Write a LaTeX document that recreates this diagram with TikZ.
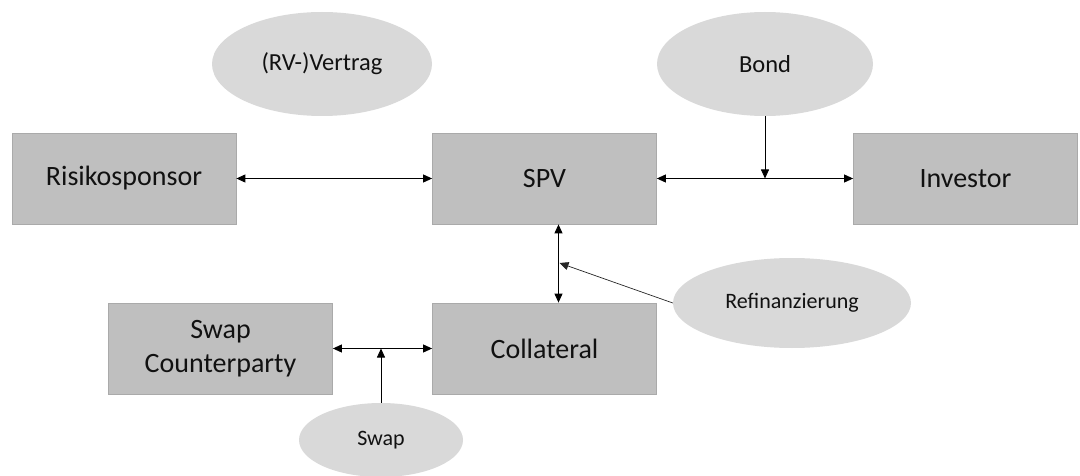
\documentclass[tikz,border=0pt]{standalone}
\usepackage{fontspec}
\setmainfont{Carlito}
\usetikzlibrary{shapes.geometric,arrows.meta,calc}
\definecolor{boxgray}{HTML}{BFBFBF}
\definecolor{boxline}{HTML}{AAAAAA}
\definecolor{ellgray}{HTML}{D9D9D9}
\definecolor{txt}{HTML}{111111}
\tikzset{
  boxnode/.style={rectangle, fill=boxgray, draw=boxline, line width=0.8pt,
    minimum width=224pt, minimum height=91pt, inner sep=0pt,
    font=\fontsize{28}{34}\selectfont, text=txt, align=center},
  ellbig/.style={ellipse, fill=ellgray, draw=none, inner sep=0pt,
    font=\fontsize{24.5}{29}\selectfont, text=txt},
  ellsmall/.style={ellipse, fill=ellgray, draw=none, inner sep=0pt,
    font=\fontsize{22}{26}\selectfont, text=txt},
  dblarrow/.style={{Triangle[length=9pt,width=8pt]}-{Triangle[length=9pt,width=8pt]}, line width=1pt, draw=black},
  onearrow/.style={-{Triangle[length=9pt,width=8pt]}, line width=0.8pt, draw=black},
  thinarrow/.style={-{Triangle[length=9pt,width=8pt]}, line width=0.7pt, draw=black!85}
}
\begin{document}
\begin{tikzpicture}[x=1pt,y=-1pt]
\useasboundingbox (0,0) rectangle (1080,476);
% ellipses
\node[ellbig, minimum width=220pt, minimum height=104pt] (vertrag) at (322,64) {(RV-)Vertrag};
\node[ellbig, minimum width=216pt, minimum height=104pt] (bond) at (765,64) {Bond};
\node[ellsmall, minimum width=238pt, minimum height=90pt] (refi) at (792,303) {Refinanzierung};
\node[ellsmall, minimum width=164pt, minimum height=74pt] (swap) at (381,440) {Swap};
% boxes
\node[boxnode] (risk) at (124,178.5) {Risikosponsor};
\node[boxnode] (spv) at (544.5,178.5) {SPV};
\node[boxnode] (inv) at (965.5,178.5) {Investor};
\node[boxnode] (swapcp) at (220.5,348.5) {Swap\\Counterparty};
\node[boxnode] (coll) at (544.5,348.5) {Collateral};
% connectors
\draw[dblarrow] (risk.east) -- (spv.west);
\draw[dblarrow] (spv.east) -- (inv.west);
\draw[onearrow] (bond.south) -- (bond.south |- spv.east);
\draw[dblarrow] ([xshift=14pt]spv.south) -- ([xshift=14pt]coll.north);
\coordinate (refitip) at (559.5,263);
\draw[thinarrow] (refi.west) -- (refitip);
\draw[dblarrow] (swapcp.east) -- (coll.west);
\draw[onearrow] (swap.north) -- (swap.north |- swapcp.east);
\end{tikzpicture}
\end{document}
